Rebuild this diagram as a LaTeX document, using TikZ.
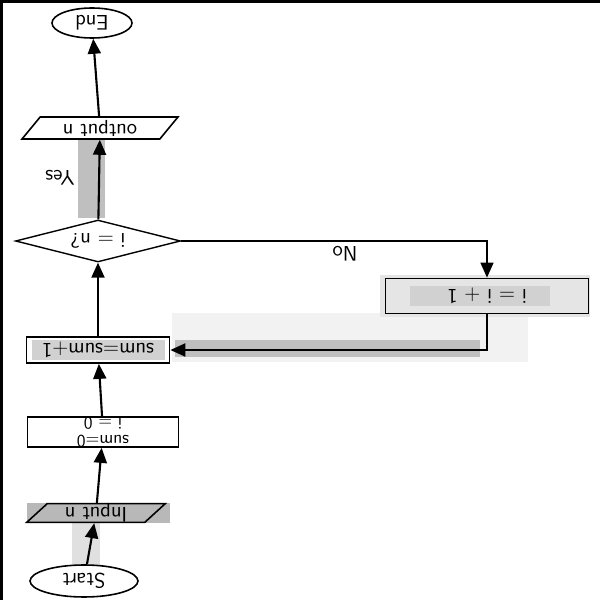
\documentclass[tikz,border=0pt]{standalone}
\usetikzlibrary{arrows.meta, positioning, shapes.geometric}

\begin{document}
\begin{tikzpicture}[
    term/.style={ellipse, draw, line width=0.9pt, inner sep=0pt, rotate=180, font=\large\sffamily},
    io/.style={trapezium, trapezium left angle=55, trapezium right angle=125, draw, line width=0.9pt,
               inner sep=0pt, trapezium stretches=true, rotate=180, font=\large\sffamily},
    proc/.style={rectangle, draw, line width=1pt, inner sep=0pt, rotate=180, font=\large\sffamily},
    test/.style={diamond, aspect=4, draw, line width=0.8pt, inner sep=0pt, rotate=180, font=\large\sffamily},
    flow/.style={-{Triangle[length=3mm, width=2.6mm]}, line width=1.2pt},
    branch/.style={-{Triangle[length=3mm, width=2.6mm]}, line width=0.8pt},
    lbl/.style={rotate=180, font=\large\sffamily},
]
\useasboundingbox (0,0) rectangle (12,12);

% --- grey patches of the scan, behind everything ---
\fill[black!12] (1.44,0.70) rectangle (2.00,1.56);
\fill[black!28] (0.54,1.54) rectangle (3.40,1.94);
\fill[black!5]  (3.44,4.76) rectangle (10.56,5.74);
\fill[black!25] (3.50,4.86) rectangle (9.60,5.20);
\fill[black!18] (0.64,4.80) rectangle (3.30,5.20);
\fill[black!10] (7.60,5.66) rectangle (11.80,6.50);
\fill[black!18] (8.20,5.88) rectangle (11.00,6.28);
\fill[black!25] (1.56,7.64) rectangle (2.10,9.20);

% frame of the scan (left and top edge)
\draw[line width=2pt] (0.02,0) -- (0.02,11.98) -- (12,11.98);

% --- boxes, bottom to top ---
\node[term, minimum width=2.16cm, minimum height=0.64cm] (start) at (1.68,0.38) {Start};
\node[io, minimum width=2.78cm, minimum height=0.36cm]   (inp)   at (1.92,1.74) {Input n};
\node[proc, minimum width=3.02cm, minimum height=0.60cm, align=center, font=\sffamily]
      (init) at (2.06,3.36) {sum=0\\[-2pt]i = 0};
\node[proc, minimum width=2.86cm, minimum height=0.52cm] (acc)   at (1.96,5.00) {sum=sum+1};
\node[proc, minimum width=4.06cm, minimum height=0.70cm] (inc)   at (9.74,6.08) {i = i + 1};
\node[test, minimum width=3.30cm, minimum height=0.84cm] (check) at (1.96,7.18) {i = n?};
\node[io, minimum width=3.12cm, minimum height=0.44cm]   (out)   at (2.00,9.44) {output n};
\node[term, minimum width=1.60cm, minimum height=0.60cm] (end)   at (1.84,11.54) {End};

% branch labels
\node[lbl] (yes) at (1.20,8.44) {Yes};
\node[lbl] (no)  at (6.90,6.92) {No};

% --- connectors ---
\draw[flow] (start) -- (inp);
\draw[flow] (inp)   -- (init);
\draw[flow] (init)  -- (acc);
\draw[flow] (acc)   -- (check);
\draw[flow] (check) -- (out);
\draw[flow] (out)   -- (end);
\draw[branch] (check) -| (inc);
\draw[flow] (inc)   |- (acc);
\end{tikzpicture}
\end{document}
